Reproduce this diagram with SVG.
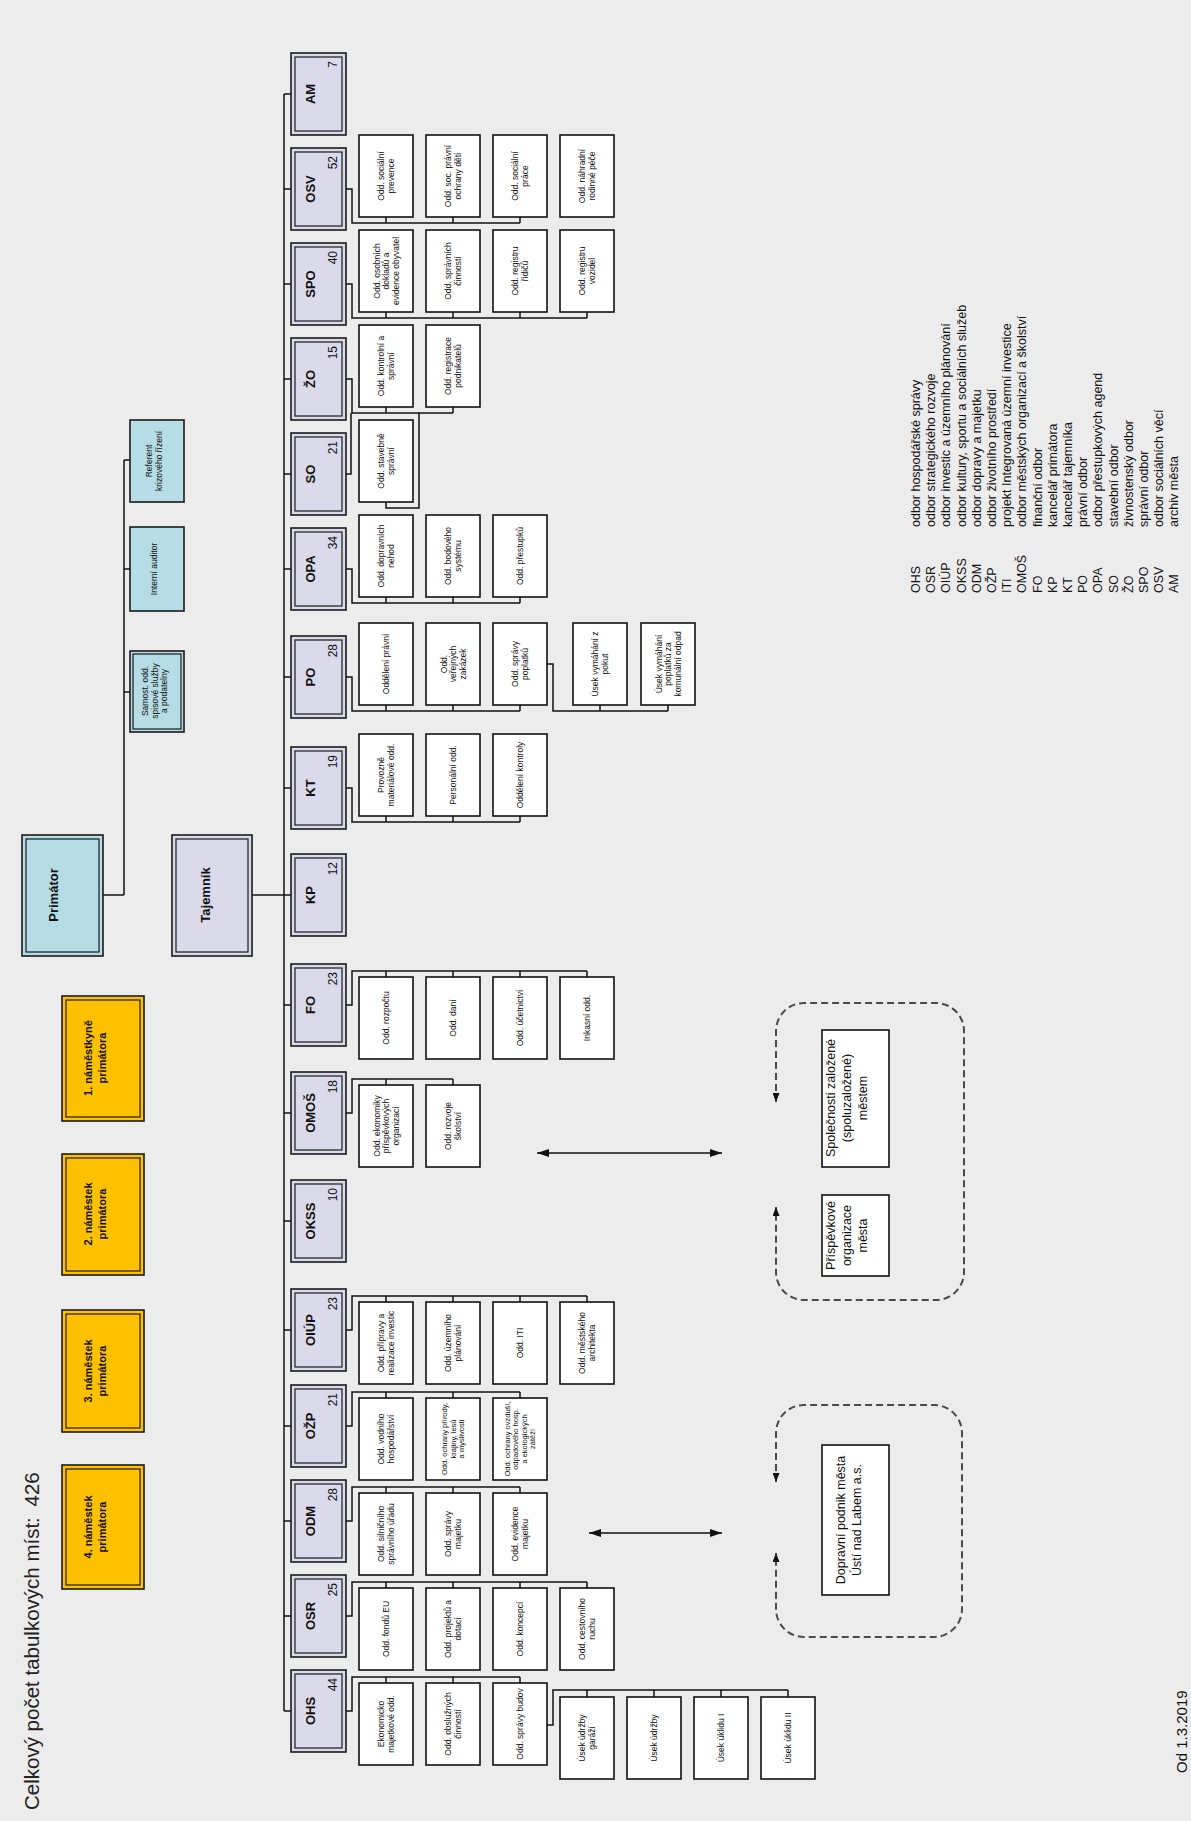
<svg xmlns="http://www.w3.org/2000/svg" width="1191" height="1821" viewBox="0 0 1191 1821">
<defs>
<style>
text{font-family:"Liberation Sans",Arial,sans-serif;fill:#111}
.dept{fill:#dadaea;stroke:#1a1a1a;stroke-width:1.6}
.in{fill:none;stroke:#1a1a1a;stroke-width:1.2}
.blue{fill:#b6dce5;stroke:#1a1a1a;stroke-width:1.6}
.gold{fill:#ffc000;stroke:#1a1a1a;stroke-width:1.6}
.sub{fill:#fff;stroke:#111;stroke-width:1.6}
.lbl{font-size:13px;font-weight:bold;text-anchor:middle}
.num{font-size:12px;text-anchor:end}
.st{font-size:8.5px;text-anchor:middle}
.st2{font-size:7.5px;text-anchor:middle}
.big{font-size:13px;font-weight:bold;text-anchor:middle}
.dep{font-size:11px;font-weight:bold;text-anchor:middle}
.ext{font-size:12.5px;text-anchor:middle}
.lg{font-size:12.5px}
.wire{fill:none;stroke:#111;stroke-width:1.5}
.dash{fill:none;stroke:#4a4a4a;stroke-width:2;stroke-dasharray:7 4}
</style>
<marker id="ah" viewBox="0 0 12 8" refX="12" refY="4" markerWidth="12" markerHeight="8" markerUnits="userSpaceOnUse" orient="auto-start-reverse"><path d="M0,0 L12,4 L0,8 z" fill="#111"/></marker>
<marker id="ahs" viewBox="0 0 9 7" refX="9" refY="3.5" markerWidth="9" markerHeight="7" markerUnits="userSpaceOnUse" orient="auto-start-reverse"><path d="M0,0 L9,3.5 L0,7 z" fill="#111"/></marker>
</defs>
<rect x="0" y="0" width="1191" height="1821" fill="#ececec"/>

<text id="title" style="font-size:20.5px;fill:#222" transform="translate(39,1810) rotate(-90)">Celkový počet tabulkových míst: <tspan dx="5">426</tspan></text>

<g id="connectors">
<path class="wire" d="M284,94V1711 M284,94H291 M284,189H291 M284,284H291 M284,379H291 M284,474H291 M284,569H291 M284,677H291 M284,788H291 M284,895H291 M284,1005H291 M284,1113H291 M284,1221H291 M284,1330H291 M284,1426H291 M284,1521H291 M284,1616H291 M284,1711H291"/>
<path class="wire" d="M252,895H284 M103,895H124 M124,460V895 M124,460H130 M124,569H130 M124,692H130"/>
<path class="wire" d="M346,189H352V223H520 M386,223V217 M453,223V217 M520,223V217"/>
<path class="wire" d="M346,284H352V318H587 M386,318V312 M453,318V312 M520,318V312 M587,318V312"/>
<path class="wire" d="M346,379H352V413H453 M386,413V407 M453,413V407"/>
<path class="wire" d="M346,474H351V413 M419,413V508H386V502"/>
<path class="wire" d="M346,569H352V603H520 M386,603V597 M453,603V597 M520,603V597"/>
<path class="wire" d="M346,677H352V711H520 M386,711V705 M453,711V705 M520,711V705 M547,664H553V711H668 M600,711V705 M668,711V705"/>
<path class="wire" d="M346,788H352V822H520 M386,822V816 M453,822V816 M520,822V816"/>
<path class="wire" d="M346,1005H352V971H587 M386,971V977 M453,971V977 M520,971V977 M587,971V977"/>
<path class="wire" d="M346,1113H352V1079H453 M386,1079V1085 M453,1079V1085"/>
<path class="wire" d="M346,1330H352V1296H587 M386,1296V1302 M453,1296V1302 M520,1296V1302 M587,1296V1302"/>
<path class="wire" d="M346,1426H352V1392H520 M386,1392V1398 M453,1392V1398 M520,1392V1398"/>
<path class="wire" d="M346,1521H352V1487H520 M386,1487V1493 M453,1487V1493 M520,1487V1493"/>
<path class="wire" d="M346,1616H352V1582H587 M386,1582V1588 M453,1582V1588 M520,1582V1588 M587,1582V1588"/>
<path class="wire" d="M346,1711H352V1677H520 M386,1677V1683 M453,1677V1683 M520,1677V1683 M547,1725H553V1690H788 M587,1690V1697 M654,1690V1697 M721,1690V1697 M788,1690V1697"/>
<path class="wire" d="M537,1153H722" marker-start="url(#ah)" marker-end="url(#ah)"/>
<path class="wire" d="M589,1533H722" marker-start="url(#ah)" marker-end="url(#ah)"/>
<path class="dash" d="M776,1102V1031A28,28 0 0 1 804,1003H936A28,28 0 0 1 964,1031V1272A28,28 0 0 1 936,1300H804A28,28 0 0 1 776,1272V1207" marker-start="url(#ahs)" marker-end="url(#ahs)"/>
<path class="dash" d="M776,1482V1433A28,28 0 0 1 804,1405H934A28,28 0 0 1 962,1433V1609A28,28 0 0 1 934,1637H804A28,28 0 0 1 776,1609V1553" marker-start="url(#ahs)" marker-end="url(#ahs)"/>
</g>

<g id="deputy-1"><rect class="gold" x="62" y="996" width="82" height="125"/><rect class="in" x="66" y="1000" width="74" height="117"/><text class="dep" transform="translate(92,1058) rotate(-90)"><tspan x="0" y="0">1. náměstkyně</tspan><tspan x="0" y="14">primátora</tspan></text></g>
<g id="deputy-2"><rect class="gold" x="62" y="1154" width="82" height="121"/><rect class="in" x="66" y="1158" width="74" height="113"/><text class="dep" transform="translate(92,1214) rotate(-90)"><tspan x="0" y="0">2. náměstek</tspan><tspan x="0" y="14">primátora</tspan></text></g>
<g id="deputy-3"><rect class="gold" x="62" y="1310" width="82" height="122"/><rect class="in" x="66" y="1314" width="74" height="114"/><text class="dep" transform="translate(92,1371) rotate(-90)"><tspan x="0" y="0">3. náměstek</tspan><tspan x="0" y="14">primátora</tspan></text></g>
<g id="deputy-4"><rect class="gold" x="62" y="1465" width="82" height="124"/><rect class="in" x="66" y="1469" width="74" height="116"/><text class="dep" transform="translate(92,1527) rotate(-90)"><tspan x="0" y="0">4. náměstek</tspan><tspan x="0" y="14">primátora</tspan></text></g>

<g id="primator"><rect class="blue" x="22" y="835" width="81" height="121"/><rect class="in" x="26" y="839" width="73" height="113"/><text class="big" transform="translate(58,895) rotate(-90)">Primátor</text></g>
<g id="tajemnik"><rect class="dept" x="172" y="835" width="80" height="121"/><rect class="in" x="176" y="839" width="72" height="113"/><text class="big" transform="translate(210,895) rotate(-90)">Tajemník</text></g>

<g id="staff-krizove"><rect class="blue" x="130" y="420" width="54" height="82"/><text class="st" transform="translate(152,461) rotate(-90)"><tspan x="0" y="0">Referent</tspan><tspan x="0" y="9.5">krizového řízení</tspan></text></g>
<g id="staff-auditor"><rect class="blue" x="130" y="527" width="54" height="84"/><text class="st" transform="translate(157,569) rotate(-90)">Interní  auditor</text></g>
<g id="staff-spisova"><rect class="blue" x="130" y="651" width="54" height="81"/><rect class="in" x="133" y="654" width="48" height="75"/><text class="st" transform="translate(148,691) rotate(-90)"><tspan x="0" y="0">Samost. odd.</tspan><tspan x="0" y="9.5">spisové služby</tspan><tspan x="0" y="19">a podatelny</tspan></text></g>

<g id="dept-AM"><rect class="dept" x="291" y="53" width="55" height="82"/><rect class="in" x="295" y="57" width="47" height="74"/><text class="lbl" transform="translate(315,94) rotate(-90)">AM</text><text class="num" transform="translate(337,61) rotate(-90)">7</text></g>
<g id="dept-OSV"><rect class="dept" x="291" y="148" width="55" height="82"/><rect class="in" x="295" y="152" width="47" height="74"/><text class="lbl" transform="translate(315,189) rotate(-90)">OSV</text><text class="num" transform="translate(337,156) rotate(-90)">52</text></g>
<g id="dept-SPO"><rect class="dept" x="291" y="243" width="55" height="82"/><rect class="in" x="295" y="247" width="47" height="74"/><text class="lbl" transform="translate(315,284) rotate(-90)">SPO</text><text class="num" transform="translate(337,251) rotate(-90)">40</text></g>
<g id="dept-ZO"><rect class="dept" x="291" y="338" width="55" height="82"/><rect class="in" x="295" y="342" width="47" height="74"/><text class="lbl" transform="translate(315,379) rotate(-90)">ŽO</text><text class="num" transform="translate(337,346) rotate(-90)">15</text></g>
<g id="dept-SO"><rect class="dept" x="291" y="433" width="55" height="82"/><rect class="in" x="295" y="437" width="47" height="74"/><text class="lbl" transform="translate(315,474) rotate(-90)">SO</text><text class="num" transform="translate(337,441) rotate(-90)">21</text></g>
<g id="dept-OPA"><rect class="dept" x="291" y="528" width="55" height="82"/><rect class="in" x="295" y="532" width="47" height="74"/><text class="lbl" transform="translate(315,569) rotate(-90)">OPA</text><text class="num" transform="translate(337,536) rotate(-90)">34</text></g>
<g id="dept-PO"><rect class="dept" x="291" y="636" width="55" height="82"/><rect class="in" x="295" y="640" width="47" height="74"/><text class="lbl" transform="translate(315,677) rotate(-90)">PO</text><text class="num" transform="translate(337,644) rotate(-90)">28</text></g>
<g id="dept-KT"><rect class="dept" x="291" y="747" width="55" height="82"/><rect class="in" x="295" y="751" width="47" height="74"/><text class="lbl" transform="translate(315,788) rotate(-90)">KT</text><text class="num" transform="translate(337,755) rotate(-90)">19</text></g>
<g id="dept-KP"><rect class="dept" x="291" y="854" width="55" height="82"/><rect class="in" x="295" y="858" width="47" height="74"/><text class="lbl" transform="translate(315,895) rotate(-90)">KP</text><text class="num" transform="translate(337,862) rotate(-90)">12</text></g>
<g id="dept-FO"><rect class="dept" x="291" y="964" width="55" height="82"/><rect class="in" x="295" y="968" width="47" height="74"/><text class="lbl" transform="translate(315,1005) rotate(-90)">FO</text><text class="num" transform="translate(337,972) rotate(-90)">23</text></g>
<g id="dept-OMOS"><rect class="dept" x="291" y="1072" width="55" height="82"/><rect class="in" x="295" y="1076" width="47" height="74"/><text class="lbl" transform="translate(315,1113) rotate(-90)">OMOŠ</text><text class="num" transform="translate(337,1080) rotate(-90)">18</text></g>
<g id="dept-OKSS"><rect class="dept" x="291" y="1180" width="55" height="82"/><rect class="in" x="295" y="1184" width="47" height="74"/><text class="lbl" transform="translate(315,1221) rotate(-90)">OKSS</text><text class="num" transform="translate(337,1188) rotate(-90)">10</text></g>
<g id="dept-OIUP"><rect class="dept" x="291" y="1289" width="55" height="82"/><rect class="in" x="295" y="1293" width="47" height="74"/><text class="lbl" transform="translate(315,1330) rotate(-90)">OIÚP</text><text class="num" transform="translate(337,1297) rotate(-90)">23</text></g>
<g id="dept-OZP"><rect class="dept" x="291" y="1385" width="55" height="82"/><rect class="in" x="295" y="1389" width="47" height="74"/><text class="lbl" transform="translate(315,1426) rotate(-90)">OŽP</text><text class="num" transform="translate(337,1393) rotate(-90)">21</text></g>
<g id="dept-ODM"><rect class="dept" x="291" y="1480" width="55" height="82"/><rect class="in" x="295" y="1484" width="47" height="74"/><text class="lbl" transform="translate(315,1521) rotate(-90)">ODM</text><text class="num" transform="translate(337,1488) rotate(-90)">28</text></g>
<g id="dept-OSR"><rect class="dept" x="291" y="1575" width="55" height="82"/><rect class="in" x="295" y="1579" width="47" height="74"/><text class="lbl" transform="translate(315,1616) rotate(-90)">OSR</text><text class="num" transform="translate(337,1583) rotate(-90)">25</text></g>
<g id="dept-OHS"><rect class="dept" x="291" y="1670" width="55" height="82"/><rect class="in" x="295" y="1674" width="47" height="74"/><text class="lbl" transform="translate(315,1711) rotate(-90)">OHS</text><text class="num" transform="translate(337,1678) rotate(-90)">44</text></g>

<g id="osv-1"><rect class="sub" x="359" y="135" width="54" height="82"/><text class="st" transform="translate(384.25,176) rotate(-90)"><tspan x="0" y="0">Odd. sociální</tspan><tspan x="0" y="9.5">prevence</tspan></text></g>
<g id="osv-2"><rect class="sub" x="426" y="135" width="54" height="82"/><text class="st" transform="translate(451.25,176) rotate(-90)"><tspan x="0" y="0">Odd. soc. právní</tspan><tspan x="0" y="9.5">ochrany dětí</tspan></text></g>
<g id="osv-3"><rect class="sub" x="493" y="135" width="54" height="82"/><text class="st" transform="translate(518.25,176) rotate(-90)"><tspan x="0" y="0">Odd. sociální</tspan><tspan x="0" y="9.5">práce</tspan></text></g>
<g id="osv-4"><rect class="sub" x="560" y="135" width="54" height="82"/><text class="st" transform="translate(585.25,176) rotate(-90)"><tspan x="0" y="0">Odd. náhradní</tspan><tspan x="0" y="9.5">rodinné péče</tspan></text></g>

<g id="spo-1"><rect class="sub" x="359" y="230" width="54" height="82"/><text class="st" transform="translate(379.5,271) rotate(-90)"><tspan x="0" y="0">Odd. osobních</tspan><tspan x="0" y="9.5">dokladů a</tspan><tspan x="0" y="19">evidence obyvatel</tspan></text></g>
<g id="spo-2"><rect class="sub" x="426" y="230" width="54" height="82"/><text class="st" transform="translate(451.25,271) rotate(-90)"><tspan x="0" y="0">Odd. správních</tspan><tspan x="0" y="9.5">činností</tspan></text></g>
<g id="spo-3"><rect class="sub" x="493" y="230" width="54" height="82"/><text class="st" transform="translate(518.25,271) rotate(-90)"><tspan x="0" y="0">Odd. registru</tspan><tspan x="0" y="9.5">řidičů</tspan></text></g>
<g id="spo-4"><rect class="sub" x="560" y="230" width="54" height="82"/><text class="st" transform="translate(585.25,271) rotate(-90)"><tspan x="0" y="0">Odd. registru</tspan><tspan x="0" y="9.5">vozidel</tspan></text></g>

<g id="zo-1"><rect class="sub" x="359" y="325" width="54" height="82"/><text class="st" transform="translate(384.25,366) rotate(-90)"><tspan x="0" y="0">Odd. kontrolní a</tspan><tspan x="0" y="9.5">správní</tspan></text></g>
<g id="zo-2"><rect class="sub" x="426" y="325" width="54" height="82"/><text class="st" transform="translate(451.25,366) rotate(-90)"><tspan x="0" y="0">Odd. registrace</tspan><tspan x="0" y="9.5">podnikatelů</tspan></text></g>

<g id="so-1"><rect class="sub" x="359" y="420" width="54" height="82"/><text class="st" transform="translate(384.25,461) rotate(-90)"><tspan x="0" y="0">Odd. stavebně</tspan><tspan x="0" y="9.5">správní</tspan></text></g>

<g id="opa-1"><rect class="sub" x="359" y="515" width="54" height="82"/><text class="st" transform="translate(384.25,556) rotate(-90)"><tspan x="0" y="0">Odd. dopravních</tspan><tspan x="0" y="9.5">nehod</tspan></text></g>
<g id="opa-2"><rect class="sub" x="426" y="515" width="54" height="82"/><text class="st" transform="translate(451.25,556) rotate(-90)"><tspan x="0" y="0">Odd. bodového</tspan><tspan x="0" y="9.5">systému</tspan></text></g>
<g id="opa-3"><rect class="sub" x="493" y="515" width="54" height="82"/><text class="st" transform="translate(523,556) rotate(-90)">Odd. přestupků</text></g>

<g id="po-1"><rect class="sub" x="359" y="623" width="54" height="82"/><text class="st" transform="translate(389,664) rotate(-90)">Oddělení právní</text></g>
<g id="po-2"><rect class="sub" x="426" y="623" width="54" height="82"/><text class="st" transform="translate(446.5,664) rotate(-90)"><tspan x="0" y="0">Odd.</tspan><tspan x="0" y="9.5">veřejných</tspan><tspan x="0" y="19">zakázek</tspan></text></g>
<g id="po-3"><rect class="sub" x="493" y="623" width="54" height="82"/><text class="st" transform="translate(518.25,664) rotate(-90)"><tspan x="0" y="0">Odd. správy</tspan><tspan x="0" y="9.5">poplatků</tspan></text></g>
<g id="po-4"><rect class="sub" x="573" y="623" width="54" height="82"/><text class="st" transform="translate(598.25,664) rotate(-90)"><tspan x="0" y="0">Úsek vymáhání z</tspan><tspan x="0" y="9.5">pokut</tspan></text></g>
<g id="po-5"><rect class="sub" x="641" y="623" width="54" height="82"/><text class="st" transform="translate(661.5,664) rotate(-90)"><tspan x="0" y="0">Úsek vymáhání</tspan><tspan x="0" y="9.5">poplatků za</tspan><tspan x="0" y="19">komunální odpad</tspan></text></g>

<g id="kt-1"><rect class="sub" x="359" y="734" width="54" height="82"/><text class="st" transform="translate(384.25,775) rotate(-90)"><tspan x="0" y="0">Provozně</tspan><tspan x="0" y="9.5">materiálové odd.</tspan></text></g>
<g id="kt-2"><rect class="sub" x="426" y="734" width="54" height="82"/><text class="st" transform="translate(456,775) rotate(-90)">Personální odd.</text></g>
<g id="kt-3"><rect class="sub" x="493" y="734" width="54" height="82"/><text class="st" transform="translate(523,775) rotate(-90)">Oddělení kontroly</text></g>

<g id="fo-1"><rect class="sub" x="359" y="977" width="54" height="82"/><text class="st" transform="translate(389,1018) rotate(-90)">Odd. rozpočtu</text></g>
<g id="fo-2"><rect class="sub" x="426" y="977" width="54" height="82"/><text class="st" transform="translate(456,1018) rotate(-90)">Odd. daní</text></g>
<g id="fo-3"><rect class="sub" x="493" y="977" width="54" height="82"/><text class="st" transform="translate(523,1018) rotate(-90)">Odd. účetnictví</text></g>
<g id="fo-4"><rect class="sub" x="560" y="977" width="54" height="82"/><text class="st" transform="translate(590,1018) rotate(-90)">Inkasní odd.</text></g>

<g id="omos-1"><rect class="sub" x="359" y="1085" width="54" height="82"/><text class="st" transform="translate(379.5,1126) rotate(-90)"><tspan x="0" y="0">Odd. ekonomiky</tspan><tspan x="0" y="9.5">příspěvkových</tspan><tspan x="0" y="19">organizací</tspan></text></g>
<g id="omos-2"><rect class="sub" x="426" y="1085" width="54" height="82"/><text class="st" transform="translate(451.25,1126) rotate(-90)"><tspan x="0" y="0">Odd. rozvoje</tspan><tspan x="0" y="9.5">školství</tspan></text></g>

<g id="oiup-1"><rect class="sub" x="359" y="1302" width="54" height="82"/><text class="st" transform="translate(384.25,1343) rotate(-90)"><tspan x="0" y="0">Odd. přípravy a</tspan><tspan x="0" y="9.5">realizace investic</tspan></text></g>
<g id="oiup-2"><rect class="sub" x="426" y="1302" width="54" height="82"/><text class="st" transform="translate(451.25,1343) rotate(-90)"><tspan x="0" y="0">Odd. územního</tspan><tspan x="0" y="9.5">plánování</tspan></text></g>
<g id="oiup-3"><rect class="sub" x="493" y="1302" width="54" height="82"/><text class="st" transform="translate(523,1343) rotate(-90)">Odd. ITI</text></g>
<g id="oiup-4"><rect class="sub" x="560" y="1302" width="54" height="82"/><text class="st" transform="translate(585.25,1343) rotate(-90)"><tspan x="0" y="0">Odd. městského</tspan><tspan x="0" y="9.5">architekta</tspan></text></g>

<g id="ozp-1"><rect class="sub" x="359" y="1398" width="54" height="82"/><text class="st" transform="translate(384.25,1439) rotate(-90)"><tspan x="0" y="0">Odd. vodního</tspan><tspan x="0" y="9.5">hospodářství</tspan></text></g>
<g id="ozp-2"><rect class="sub" x="426" y="1398" width="54" height="82"/><text class="st2" transform="translate(447.1,1439) rotate(-90)"><tspan x="0" y="0">Odd. ochrany přírody,</tspan><tspan x="0" y="8.5">krajiny, lesů</tspan><tspan x="0" y="17">a myslivosti</tspan></text></g>
<g id="ozp-3"><rect class="sub" x="493" y="1398" width="54" height="82"/><text class="st2" transform="translate(509.85,1439) rotate(-90)"><tspan x="0" y="0">Odd. ochrany ovzduší,</tspan><tspan x="0" y="8.5">odpadového hosp.</tspan><tspan x="0" y="17">a ekologických</tspan><tspan x="0" y="25.5">zátěží</tspan></text></g>

<g id="odm-1"><rect class="sub" x="359" y="1493" width="54" height="82"/><text class="st" transform="translate(384.25,1534) rotate(-90)"><tspan x="0" y="0">Odd. silničního</tspan><tspan x="0" y="9.5">správního úřadu</tspan></text></g>
<g id="odm-2"><rect class="sub" x="426" y="1493" width="54" height="82"/><text class="st" transform="translate(451.25,1534) rotate(-90)"><tspan x="0" y="0">Odd. správy</tspan><tspan x="0" y="9.5">majetku</tspan></text></g>
<g id="odm-3"><rect class="sub" x="493" y="1493" width="54" height="82"/><text class="st" transform="translate(518.25,1534) rotate(-90)"><tspan x="0" y="0">Odd. evidence</tspan><tspan x="0" y="9.5">majetku</tspan></text></g>

<g id="osr-1"><rect class="sub" x="359" y="1588" width="54" height="82"/><text class="st" transform="translate(389,1629) rotate(-90)">Odd. fondů EU</text></g>
<g id="osr-2"><rect class="sub" x="426" y="1588" width="54" height="82"/><text class="st" transform="translate(451.25,1629) rotate(-90)"><tspan x="0" y="0">Odd. projektů a</tspan><tspan x="0" y="9.5">dotací</tspan></text></g>
<g id="osr-3"><rect class="sub" x="493" y="1588" width="54" height="82"/><text class="st" transform="translate(523,1629) rotate(-90)">Odd. koncepcí</text></g>
<g id="osr-4"><rect class="sub" x="560" y="1588" width="54" height="82"/><text class="st" transform="translate(585.25,1629) rotate(-90)"><tspan x="0" y="0">Odd. cestovního</tspan><tspan x="0" y="9.5">ruchu</tspan></text></g>

<g id="ohs-1"><rect class="sub" x="359" y="1683" width="54" height="82"/><text class="st" transform="translate(384.25,1724) rotate(-90)"><tspan x="0" y="0">Ekonomicko</tspan><tspan x="0" y="9.5">majetkové odd.</tspan></text></g>
<g id="ohs-2"><rect class="sub" x="426" y="1683" width="54" height="82"/><text class="st" transform="translate(451.25,1724) rotate(-90)"><tspan x="0" y="0">Odd. obslužných</tspan><tspan x="0" y="9.5">činností</tspan></text></g>
<g id="ohs-3"><rect class="sub" x="493" y="1683" width="54" height="82"/><text class="st" transform="translate(523,1724) rotate(-90)">Odd. správy budov</text></g>
<g id="ohs-4"><rect class="sub" x="560" y="1697" width="54" height="82"/><text class="st" transform="translate(585.25,1738) rotate(-90)"><tspan x="0" y="0">Úsek údržby</tspan><tspan x="0" y="9.5">garáží</tspan></text></g>
<g id="ohs-5"><rect class="sub" x="627" y="1697" width="54" height="82"/><text class="st" transform="translate(657,1738) rotate(-90)">Úsek údržby</text></g>
<g id="ohs-6"><rect class="sub" x="694" y="1697" width="54" height="82"/><text class="st" transform="translate(724,1738) rotate(-90)">Úsek úklidu I</text></g>
<g id="ohs-7"><rect class="sub" x="761" y="1697" width="54" height="82"/><text class="st" transform="translate(791,1738) rotate(-90)">Úsek úklidu II</text></g>

<g id="spolecnosti"><rect class="sub" x="822" y="1030" width="67" height="137"/><text class="ext" transform="translate(835,1098) rotate(-90)"><tspan x="0" y="0">Společnosti založené</tspan><tspan x="0" y="16">(spoluzaložené)</tspan><tspan x="0" y="32">městem</tspan></text></g>
<g id="prispevkove"><rect class="sub" x="822" y="1195" width="67" height="81"/><text class="ext" transform="translate(835,1235.5) rotate(-90)"><tspan x="0" y="0">Příspěvkové</tspan><tspan x="0" y="16">organizace</tspan><tspan x="0" y="32">města</tspan></text></g>
<g id="dopravni-podnik"><rect class="sub" x="822" y="1445" width="67" height="150"/><text class="ext" transform="translate(844.5,1520) rotate(-90)"><tspan x="0" y="0">Dopravní podnik města</tspan><tspan x="0" y="16">Ústí nad Labem a.s.</tspan></text></g>

<g id="legend">
<text class="lg" transform="translate(920,593) rotate(-90)"><tspan x="0" y="0">OHS</tspan><tspan x="0" y="15.2">OSR</tspan><tspan x="0" y="30.4">OIÚP</tspan><tspan x="0" y="45.6">OKSS</tspan><tspan x="0" y="60.8">ODM</tspan><tspan x="0" y="76">OŽP</tspan><tspan x="0" y="91.2">ITI</tspan><tspan x="0" y="106.4">OMOŠ</tspan><tspan x="0" y="121.6">FO</tspan><tspan x="0" y="136.8">KP</tspan><tspan x="0" y="152">KT</tspan><tspan x="0" y="167.2">PO</tspan><tspan x="0" y="182.4">OPA</tspan><tspan x="0" y="197.6">SO</tspan><tspan x="0" y="212.8">ŽO</tspan><tspan x="0" y="228">SPO</tspan><tspan x="0" y="243.2">OSV</tspan><tspan x="0" y="258.4">AM</tspan></text>
<text class="lg" transform="translate(920,527) rotate(-90)"><tspan x="0" y="0">odbor hospodářské správy</tspan><tspan x="0" y="15.2">odbor strategického rozvoje</tspan><tspan x="0" y="30.4">odbor investic a územního plánování</tspan><tspan x="0" y="45.6">odbor kultury, sportu a sociálních služeb</tspan><tspan x="0" y="60.8">odbor dopravy a majetku</tspan><tspan x="0" y="76">odbor životního prostředí</tspan><tspan x="0" y="91.2">projekt Integrovaná územní investice</tspan><tspan x="0" y="106.4">odbor městských organizací a školství</tspan><tspan x="0" y="121.6">finanční odbor</tspan><tspan x="0" y="136.8">kancelář primátora</tspan><tspan x="0" y="152">kancelář tajemníka</tspan><tspan x="0" y="167.2">právní odbor</tspan><tspan x="0" y="182.4">odbor přestupkových agend</tspan><tspan x="0" y="197.6">stavební odbor</tspan><tspan x="0" y="212.8">živnostenský odbor</tspan><tspan x="0" y="228">správní odbor</tspan><tspan x="0" y="243.2">odbor sociálních věcí</tspan><tspan x="0" y="258.4">archiv města</tspan></text>
</g>

<text id="date" style="font-size:15px" transform="translate(1187,1773) rotate(-90)">Od 1.3.2019</text>
</svg>
